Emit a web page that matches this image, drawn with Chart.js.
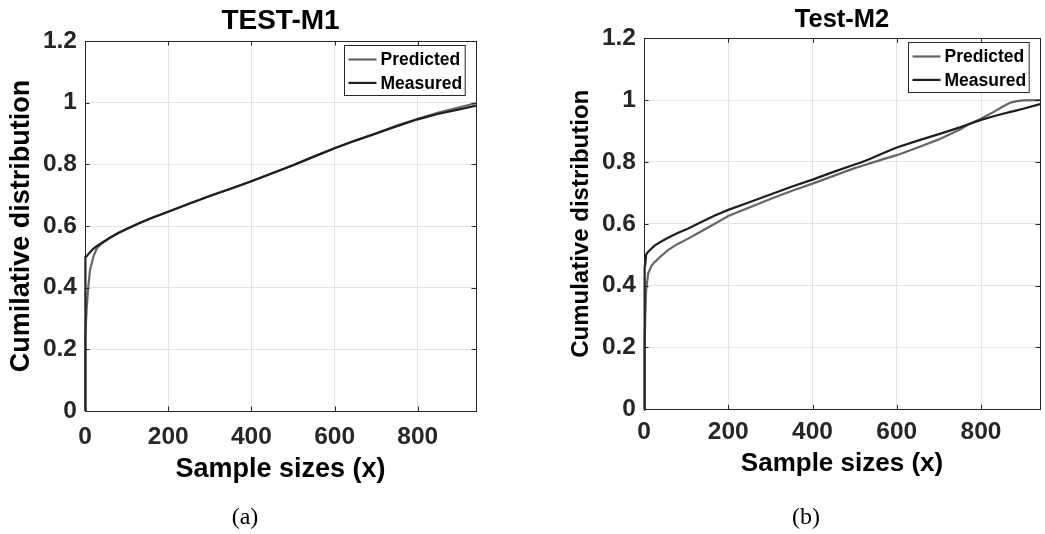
<!DOCTYPE html>
<html>
<head>
<meta charset="utf-8">
<title>Cumulative distribution of sample sizes</title>
<script src="https://cdn.jsdelivr.net/npm/chart.js@4.4.1/dist/chart.umd.min.js"></script>
<style>
  body { margin: 0; width: 1045px; height: 534px; background: #fff; position: relative; overflow: hidden; }
  canvas { position: absolute; top: 0; }
  .caption { position: absolute; top: 503px; width: 80px; text-align: center; line-height: 26px;
             font-family: "Liberation Serif", "Times New Roman", serif; font-size: 24px; color: #000; }
</style>
</head>
<body>
<canvas id="chartM1" width="520" height="534" style="left:0"></canvas>
<canvas id="chartM2" width="486" height="534" style="left:559px"></canvas>
<div class="caption" style="left:205px">(a)</div>
<div class="caption" style="left:766px">(b)</div>
<script>
// TEST-M1: sample sizes and cumulative distribution
const m1Sizes     = [0, 0, 2, 4, 7, 12, 20, 28, 40, 60, 80, 100, 130, 160, 200, 250, 300, 350, 400, 450, 500, 550, 600, 650, 700, 750, 800, 850, 900, 940];
const m1Predicted = [0, 0, 0.25, 0.33, 0.39, 0.457, 0.50, 0.527, 0.543, 0.562, 0.577, 0.59, 0.609, 0.626, 0.646, 0.672, 0.697, 0.721, 0.745, 0.771, 0.797, 0.825, 0.852, 0.877, 0.901, 0.926, 0.948, 0.968, 0.985, 0.998];
const m1Measured  = [0, 0.495, 0.499, 0.502, 0.507, 0.515, 0.526, 0.535, 0.545, 0.562, 0.577, 0.59, 0.609, 0.626, 0.646, 0.672, 0.697, 0.721, 0.745, 0.771, 0.797, 0.825, 0.852, 0.877, 0.9, 0.924, 0.946, 0.964, 0.978, 0.99];

// Test-M2
const m2Sizes     = [0, 1, 2, 3, 5, 10, 18, 26, 40, 57, 80, 105, 135, 168, 200, 250, 300, 350, 400, 450, 500, 515, 540, 570, 600, 650, 700, 750, 770, 800, 830, 850, 870, 885, 900, 940];
const m2Predicted = [0, 0, 0.20, 0.30, 0.385, 0.44, 0.465, 0.477, 0.495, 0.515, 0.535, 0.552, 0.575, 0.60, 0.625, 0.653, 0.68, 0.706, 0.73, 0.755, 0.78, 0.786, 0.797, 0.81, 0.822, 0.847, 0.873, 0.905, 0.921, 0.94, 0.962, 0.978, 0.992, 0.997, 0.999, 1.0];
const m2Measured  = [0, 0.455, 0.46, 0.47, 0.50, 0.51, 0.52, 0.53, 0.542, 0.555, 0.57, 0.585, 0.605, 0.627, 0.645, 0.67, 0.695, 0.72, 0.743, 0.768, 0.792, 0.798, 0.812, 0.83, 0.847, 0.869, 0.89, 0.912, 0.922, 0.936, 0.948, 0.955, 0.962, 0.967, 0.972, 0.987];

// axes
const xTicks = [0, 200, 400, 600, 800];
const yTicks = [0, 0.2, 0.4, 0.6, 0.8, 1, 1.2];
const yTickLabels = ['0', '0.2', '0.4', '0.6', '0.8', '1', '1.2'];
const seriesNames = ['Predicted', 'Measured'];
const seriesColors = ['#666666', '#1e1e1e'];

const FONT = '"Liberation Sans", Arial, Helvetica, sans-serif';

// box around the axes, inward tick marks and a boxed legend
const axesFrame = {
  id: 'axesFrame',
  afterDatasetsDraw(chart) {
    const { ctx, chartArea: a, scales: { x, y } } = chart;
    const len = 4.5;
    ctx.save();
    ctx.strokeStyle = '#262626';
    ctx.lineWidth = 1;
    ctx.beginPath();
    xTicks.forEach(v => {
      const px = Math.round(x.getPixelForValue(v)) + 0.5;
      ctx.moveTo(px, a.bottom); ctx.lineTo(px, a.bottom - len);
      ctx.moveTo(px, a.top); ctx.lineTo(px, a.top + len);
    });
    yTicks.forEach(v => {
      const py = Math.round(y.getPixelForValue(v)) + 0.5;
      ctx.moveTo(a.left, py); ctx.lineTo(a.left + len, py);
      ctx.moveTo(a.right, py); ctx.lineTo(a.right - len, py);
    });
    ctx.stroke();
    ctx.strokeRect(Math.round(a.left) + 0.5, Math.round(a.top) + 0.5,
                   Math.round(a.right - a.left), Math.round(a.bottom - a.top));
    ctx.restore();
  },
  afterDraw(chart) {
    const { ctx, chartArea: a } = chart;
    const sets = chart.data.datasets;
    ctx.save();
    ctx.font = 'bold 17.5px ' + FONT;
    const textW = Math.max(...sets.map(d => ctx.measureText(d.label).width));
    const w = 4 + 28 + 4 + textW + 3;
    const h = 50;
    const left = Math.round(a.right - 11 - w) + 0.5;
    const top = Math.round(a.top + 4) + 0.5;
    ctx.fillStyle = '#fff';
    ctx.fillRect(left, top, w, h);
    ctx.strokeStyle = '#262626';
    ctx.lineWidth = 1;
    ctx.strokeRect(left, top, w, h);
    sets.forEach((d, i) => {
      const cy = top + 14 + i * 23.4;
      ctx.strokeStyle = d.borderColor;
      ctx.lineWidth = d.borderWidth;
      ctx.beginPath();
      ctx.moveTo(left + 4, cy);
      ctx.lineTo(left + 32, cy);
      ctx.stroke();
      ctx.fillStyle = '#000';
      ctx.textBaseline = 'middle';
      ctx.textAlign = 'left';
      ctx.fillText(d.label, left + 36, cy + 1);
    });
    ctx.restore();
  }
};

function points(sizes, values) {
  return sizes.map((s, i) => ({ x: s, y: values[i] }));
}

function makeChart(id, o) {
  const datasets = [o.predicted, o.measured].map((vals, i) => ({
    label: seriesNames[i],
    data: points(o.sizes, vals),
    borderColor: seriesColors[i],
    borderWidth: 2.2,
    pointRadius: 0,
    tension: 0,
    clip: false,
    order: 1 - i
  }));

  return new Chart(document.getElementById(id), {
    type: 'line',
    data: { datasets },
    plugins: [axesFrame],
    options: {
      responsive: false,
      animation: false,
      events: [],
      layout: { padding: o.padding },
      plugins: {
        legend: { display: false },
        tooltip: { enabled: false },
        title: {
          display: true,
          text: o.title,
          fullSize: false,
          color: '#000',
          font: { family: FONT, size: o.titleSize, weight: 'bold', lineHeight: 1.2 },
          padding: o.titlePad
        }
      },
      scales: {
        x: {
          type: 'linear',
          min: 0,
          max: 940,
          afterBuildTicks: s => { s.ticks = xTicks.map(v => ({ value: v })); },
          afterFit: s => { s.height = o.xHeight; },
          grid: { color: '#e4e4e4', drawTicks: false },
          border: { display: false },
          ticks: {
            autoSkip: false, maxRotation: 0, padding: o.xTickPad,
            color: '#262626',
            font: { family: FONT, size: o.tickSize, weight: 'bold' }
          },
          title: {
            display: true,
            text: 'Sample sizes (x)',
            color: '#000',
            font: { family: FONT, size: o.xTitleSize, weight: 'bold', lineHeight: 1.2 },
            padding: { top: 0, bottom: 0 }
          }
        },
        y: {
          min: 0,
          max: 1.2,
          afterBuildTicks: s => { s.ticks = yTicks.map(v => ({ value: v })); },
          afterFit: s => { s.width = 85; },
          grid: { color: '#e4e4e4', drawTicks: false },
          border: { display: false },
          ticks: {
            autoSkip: false, padding: 8,
            color: '#262626',
            font: { family: FONT, size: o.tickSize, weight: 'bold' },
            callback: (v, i) => yTickLabels[i]
          },
          title: {
            display: true,
            text: o.yTitle,
            color: '#000',
            font: { family: FONT, size: o.yTitleSize, weight: 'bold', lineHeight: 1.2 },
            padding: { top: o.yTitlePad, bottom: 0 }
          }
        }
      }
    }
  });
}

makeChart('chartM1', {
  title: 'TEST-M1',
  yTitle: 'Cumilative distribution',
  sizes: m1Sizes, predicted: m1Predicted, measured: m1Measured,
  padding: { top: 0, right: 44, bottom: 48, left: 0 },
  titleSize: 28, titlePad: { top: 4, bottom: 3.4 },
  tickSize: 24.5, xTickPad: 12, xHeight: 75,
  xTitleSize: 27, yTitleSize: 27, yTitlePad: 5
});

makeChart('chartM2', {
  title: 'Test-M2',
  yTitle: 'Cumulative distribution',
  sizes: m2Sizes, predicted: m2Predicted, measured: m2Measured,
  padding: { top: 0, right: 5, bottom: 54.7, left: 0 },
  titleSize: 25.5, titlePad: { top: 5, bottom: 2.7 },
  tickSize: 24.5, xTickPad: 8, xHeight: 70,
  xTitleSize: 26, yTitleSize: 24, yTitlePad: 8
});
</script>
</body>
</html>
